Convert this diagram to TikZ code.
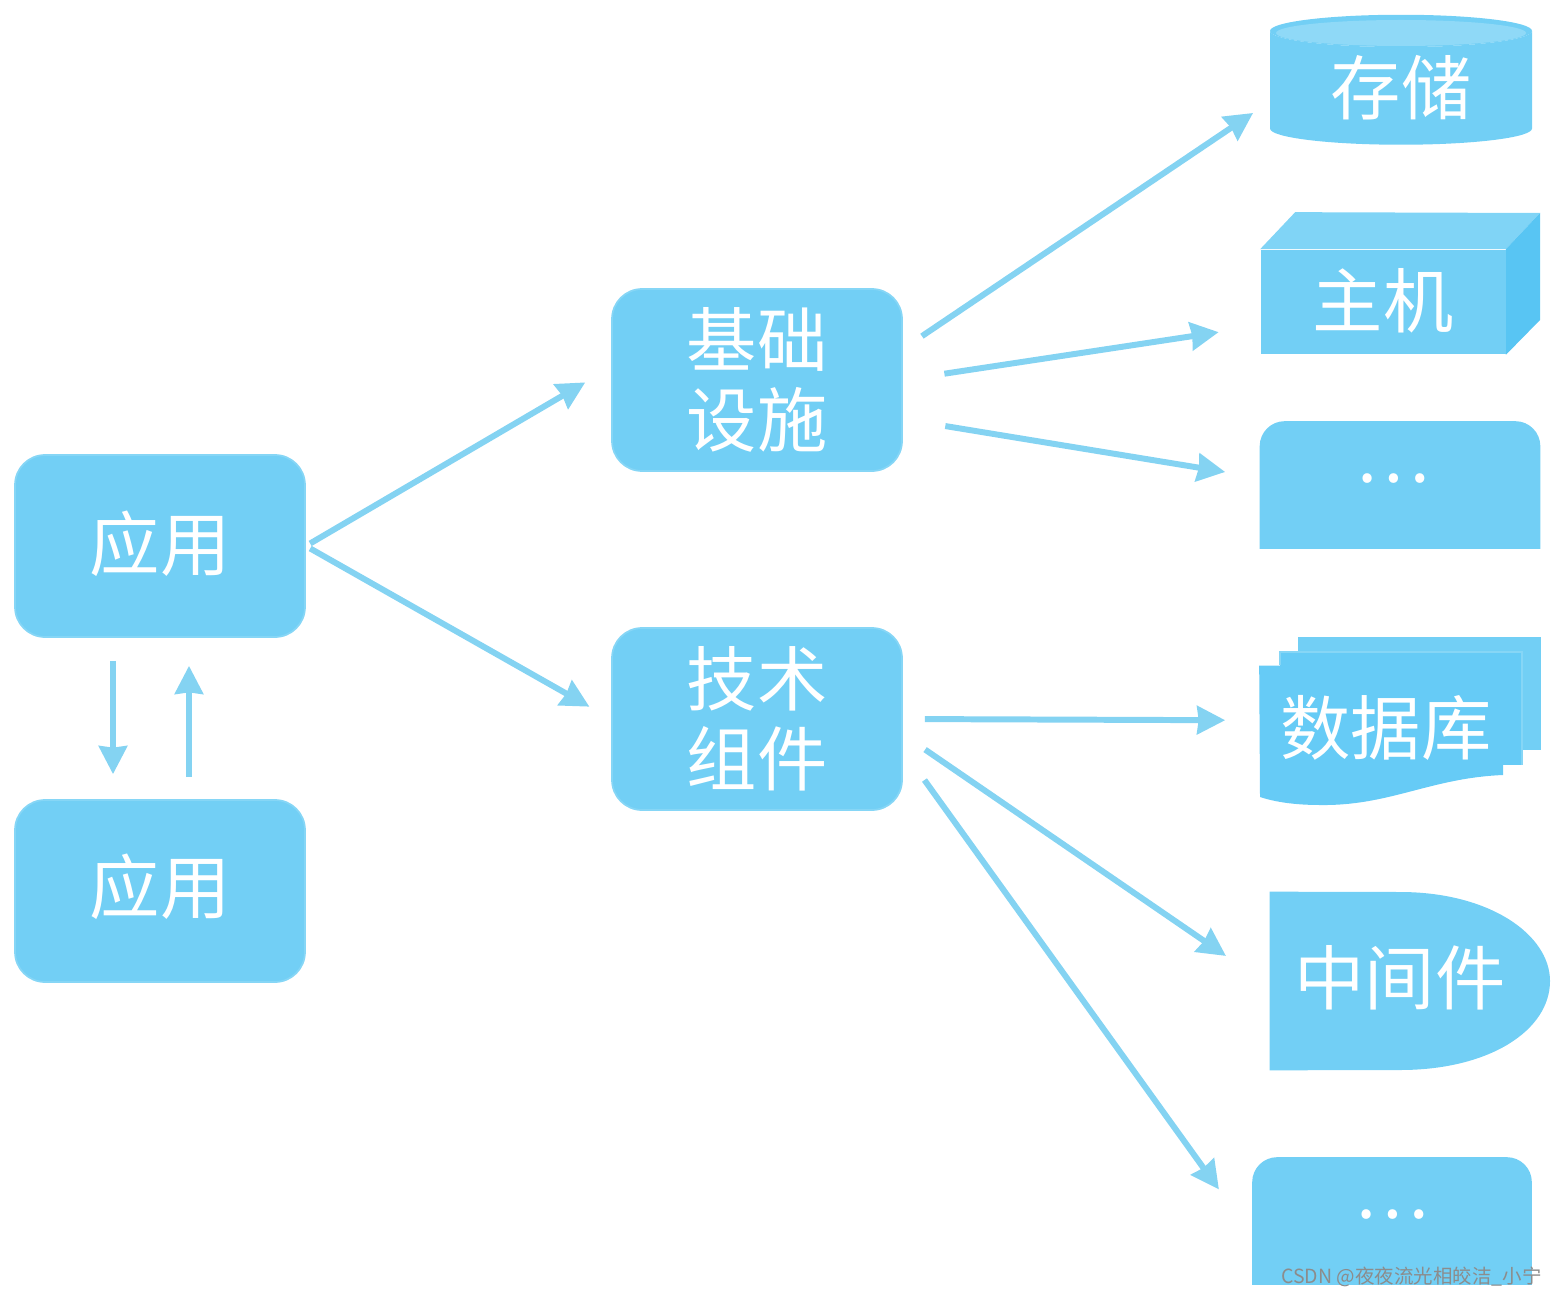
\documentclass[tikz,border=0pt]{standalone}
\usepackage{fontspec}
\usetikzlibrary{shapes.geometric,backgrounds,arrows.meta}
\newfontfamily\cjk{Noto Sans CJK SC}
\definecolor{boxblue}{HTML}{72CFF5}
\definecolor{boxedge}{HTML}{86D6F6}
\definecolor{flowblue}{HTML}{84D3F2}
\definecolor{lidblue}{HTML}{8FD9F7}
\definecolor{topblue}{HTML}{80D4F6}
\definecolor{sideblue}{HTML}{58C5F3}
\definecolor{sheetblue}{HTML}{66CBF6}
\definecolor{markgray}{HTML}{8C8C8C}
\tikzset{
  lbl/.style={text=white,font=\cjk\fontsize{40}{45.5}\selectfont,align=center,inner sep=0pt},
  appbox/.style={lbl,fill=boxblue,draw=boxedge,line width=1pt,rounded corners=0.6cm,minimum width=5.8cm,minimum height=3.64cm},
  plainbox/.style={lbl,minimum width=#1,minimum height=2.54cm},
  flow/.style={->,draw=flowblue,line width=3.4pt},
}
\begin{document}
\begin{tikzpicture}[x=0.02cm,y=-0.02cm,>={Stealth[length=0.56cm,width=0.56cm,inset=0.03cm]}]
\useasboundingbox (0,0) rectangle (1557,1297);
% left column
\node[appbox] (app1) at (160,546) {\raisebox{0.2cm}{应用}};
\node[appbox] (app2) at (160,891) {\raisebox{0.28cm}{应用}};
% middle column
\node[appbox] (infra) at (757,380) {基础\\设施};
\node[appbox] (tech) at (757,719) {技术\\组件};
% storage drum
\node[lbl,shape=cylinder,shape border rotate=90,aspect=0.23,minimum width=5.24cm,minimum height=2.6cm,
  cylinder uses custom fill,cylinder body fill=boxblue,cylinder end fill=boxblue] (store) at (1401,88) {存储};
\fill[lidblue] (1401,33) ellipse [x radius=125,y radius=13];
% host block, front face first
\node[lbl,fill=boxblue,minimum width=4.9cm,minimum height=2.1cm] (host) at (1383,302) {\raisebox{0.16cm}{主机}};
\begin{scope}[on background layer]
\fill[topblue] (host.north west) -- ++(35,-37) -- (1540,213) -- (host.north east) -- cycle;
\fill[sideblue] (host.north east) -- (1540,213) -- (1540,320) -- (host.south east) -- cycle;
\end{scope}
% the upper box with dots
\node[plainbox=5.6cm] (more1) at (1400,485) {\hspace*{-0.28cm}\raisebox{0.28cm}{…}};
\begin{scope}[on background layer]
\fill[boxblue] (more1.south west) [rounded corners=0.5cm] -- (more1.north west) -- (more1.north east) [sharp corners] -- (more1.south east) -- cycle;
\end{scope}
% database sheets, back to front
\node[lbl,minimum width=4.86cm,minimum height=2.6cm] (db) at (1381,731) {\hspace*{0.2cm}\raisebox{0.25cm}{数据库}};
\begin{scope}[on background layer]
\fill[boxblue] (1298,637) rectangle (1541,750);
\fill[sheetblue] (1280,652) rectangle (1522,765);
\draw[boxedge,line width=0.6pt] (1280,665) |- (1522,652) -- (1522,765);
\fill[sheetblue] (db.north west) -- (db.north east) -- (1503,775) .. controls (1430,778) and (1390,806) .. (1320,805) .. controls (1295,805) and (1275,802) .. (1260,797) -- cycle;
\end{scope}
% middleware
\node[lbl,minimum width=5.6cm,minimum height=3.56cm] (mid) at (1410,981) {};
\node[lbl] (midtext) at (1400,978) {中间件};
\begin{scope}[on background layer]
\fill[boxblue] (mid.north west) -- (1400,892) .. controls (1490,892) and (1550,935) .. (1550,981) .. controls (1550,1030) and (1490,1070) .. (1400,1070) -- (mid.south west) -- cycle;
\end{scope}
% the lower box with dots
\node[plainbox=5.58cm] (more2) at (1392,1221) {\raisebox{0.28cm}{…}};
\begin{scope}[on background layer]
\fill[boxblue] (more2.south west) [rounded corners=0.5cm] -- (more2.north west) -- (more2.north east) [sharp corners] -- (more2.south east) -- cycle;
\end{scope}
% connectors
\draw[flow,shorten <=0.1cm,shorten >=0.6cm] (app1.east) -- (infra.175);
\draw[flow,shorten <=0.1cm,shorten >=0.5cm] (app1.east) -- (tech.west);
\draw[flow,shorten <=0.46cm,shorten >=0.4cm] (infra.12) -- (store.186);
\draw[flow,shorten <=0.84cm,shorten >=0.84cm] (infra.east) -- (host.191);
\draw[flow,shorten <=0.86cm,shorten >=0.7cm] (infra.345) -- (more1.177);
\draw[flow,shorten <=0.44cm,shorten >=0.68cm] (tech.east) -- (db.175);
\draw[flow,shorten <=0.54cm,shorten >=1.06cm] (tech.354) -- (mid.182);
\draw[flow,shorten <=0.74cm,shorten >=1.14cm] (tech.348) -- (more2.186);
\draw[flow,shorten <=0.46cm,shorten >=0.5cm] ([xshift=-0.94cm]app1.south) -- ([xshift=-0.94cm]app2.north);
\draw[flow,shorten <=0.44cm,shorten >=0.56cm] ([xshift=0.58cm]app2.north) -- ([xshift=0.58cm]app1.south);
% mark in the corner
\node[anchor=east,inner sep=0pt,text=markgray,font=\cjk\fontsize{11.1}{14}\selectfont] (mark) at (1542,1277) {CSDN @夜夜流光相皎洁\_小宁};
\end{tikzpicture}
\end{document}
